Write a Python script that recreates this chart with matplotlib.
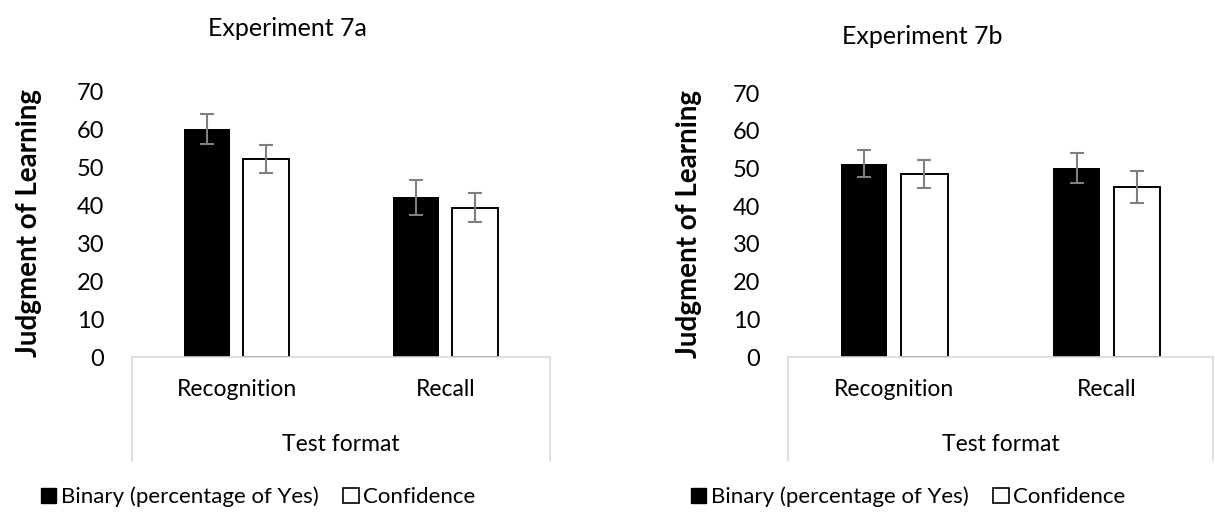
import matplotlib
matplotlib.use("Agg")
import matplotlib.pyplot as plt
from matplotlib.patches import Patch
import numpy as np

plt.rcParams['font.family'] = ['Lato', 'DejaVu Sans']

categories = ['Recognition', 'Recall']
series_names = ['Binary (percentage of Yes)', 'Confidence']

# Experiment 7a
binary_7a = [60, 42]
binary_7a_err = [4.0, 4.7]
conf_7a = [52, 39.3]
conf_7a_err = [3.7, 3.9]

# Experiment 7b
binary_7b = [51.2, 50.1]
binary_7b_err = [3.6, 4.0]
conf_7b = [48.5, 45]
conf_7b_err = [3.8, 4.2]

W, H = 1215, 518
fig = plt.figure(figsize=(W / 100, H / 100), dpi=100)


def px_rect(x0, x1, ytop, ybot):
    return [x0 / W, 1 - ybot / H, (x1 - x0) / W, (ybot - ytop) / H]


def draw_panel(rect, binary, binary_err, conf, conf_err, title, title_xy, legend_x, ylab_x):
    ax = fig.add_axes(rect)
    x = np.arange(len(categories))
    w = 0.22
    off = 0.142
    ekw = dict(ecolor='#7f7f7f', elinewidth=1.5, capsize=5, capthick=1.5)
    ax.bar(x - off, binary, w, color='black', yerr=binary_err, error_kw=ekw, zorder=2)
    ax.bar(x + off, conf, w, color='white', edgecolor='black', linewidth=1.4,
           yerr=conf_err, error_kw=ekw, zorder=2)
    ax.set_xlim(-0.5, 1.5)
    ax.set_ylim(0, 70)
    ax.set_yticks(range(0, 71, 10))
    ax.set_xticks(x)
    ax.set_xticklabels(categories, fontsize=16.5)
    ax.tick_params(axis='x', length=0, pad=16)
    ax.tick_params(axis='y', length=0, pad=20, labelsize=17)
    for s in ['top', 'right', 'left']:
        ax.spines[s].set_visible(False)
    ax.spines['bottom'].set_color('#d9d9d9')
    ax.spines['bottom'].set_linewidth(1.2)
    # multi-level category axis borders
    for xe in (0, 1):
        ax.plot([xe, xe], [0, -0.39], transform=ax.transAxes, color='#d9d9d9',
                lw=1.2, clip_on=False)
    ax.text(0.5, -0.33, 'Test format', transform=ax.transAxes, ha='center',
            va='center', fontsize=16.5)
    ax.set_ylabel('Judgment of Learning', fontsize=20, fontweight='bold')
    ax.yaxis.set_label_coords(ylab_x, 0.505)
    fig.text(title_xy[0] / W, 1 - title_xy[1] / H, title, ha='center', va='center',
             fontsize=18)
    handles = [Patch(facecolor='black', edgecolor='black'),
               Patch(facecolor='white', edgecolor='black', linewidth=1.2)]
    fig.legend(handles, series_names, loc='center left',
               bbox_to_anchor=(legend_x / W, 1 - 497 / H), ncol=2, frameon=False,
               fontsize=16, handlelength=0.7, handleheight=0.7,
               handletextpad=0.2, columnspacing=1.1, borderaxespad=0)
    return ax


draw_panel(px_rect(132, 550, 91, 357), binary_7a, binary_7a_err, conf_7a, conf_7a_err,
           'Experiment 7a', (287, 28), 32, -0.215)
draw_panel(px_rect(788, 1213, 93, 357), binary_7b, binary_7b_err, conf_7b, conf_7b_err,
           'Experiment 7b', (922, 37), 682, -0.202)

fig.savefig('out.png', dpi=100)
